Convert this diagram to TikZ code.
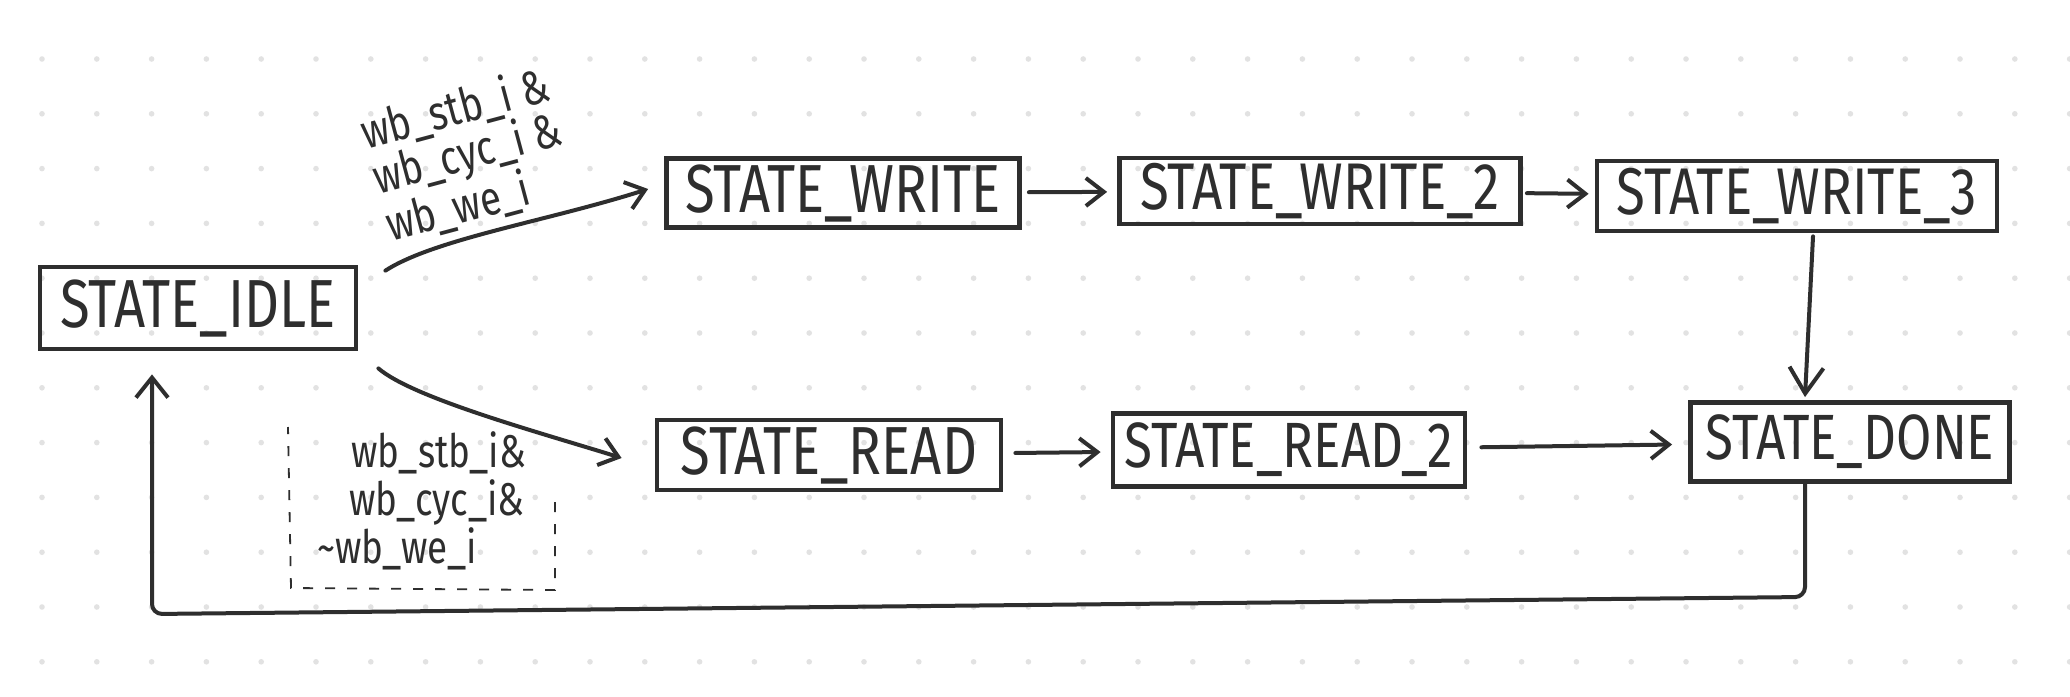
\documentclass[tikz,border=0pt]{standalone}
\usepackage{fontspec}
\newfontfamily\hand[FakeStretch=0.8]{Fira Sans}
\usetikzlibrary{arrows.meta}
\definecolor{ink}{HTML}{2E2E2E}
\definecolor{gridgray}{HTML}{E2E2E2}
\begin{document}
\begin{tikzpicture}[x=0.5pt,y=-0.5pt,
  statebox/.style={draw=ink, line width=2.4pt, inner sep=0pt, text=ink,
    font=\hand\fontsize{34}{40}\selectfont},
  arr/.style={draw=ink, line width=2pt, line cap=round, line join=round,
    -{Straight Barb[length=9pt,width=14pt,line width=2pt]}},
  cond/.style={text=ink, inner sep=0pt},
]
\useasboundingbox (0,0) rectangle (2070,696);
\fill[white] (0,0) rectangle (2070,696);
\foreach \i in {0,...,37}{
  \foreach \j in {0,...,11}{
    \fill[gridgray] (42+54.8*\i, 59+54.8*\j) circle (1.4pt);
  }
}
% states
\node[statebox, minimum width=158pt, minimum height=41pt] (idle) at (198,308) {STATE\_IDLE};
\node[statebox, minimum width=176.5pt, minimum height=34.5pt] (write) at (843,193) {STATE\_WRITE};
\node[statebox, minimum width=200.5pt, minimum height=33pt, font=\hand\fontsize{33}{40}\selectfont] (write2) at (1320,191) {STATE\_WRITE\_2};
\node[statebox, minimum width=200pt, minimum height=35pt, font=\hand\fontsize{33}{40}\selectfont] (write3) at (1797,196) {STATE\_WRITE\_3};
\node[statebox, minimum width=172pt, minimum height=35pt] (read) at (829,455) {STATE\_READ};
\node[statebox, minimum width=176pt, minimum height=36.5pt, font=\hand\fontsize{32}{40}\selectfont] (read2) at (1289,450) {STATE\_READ\_2};
\node[statebox, minimum width=159.5pt, minimum height=39.5pt, font=\hand\fontsize{32}{40}\selectfont] (done) at (1850,442) {STATE\_DONE};
% conditions
\node[cond, rotate=15, align=left, font=\hand\fontsize{24}{23}\selectfont] (wcond) at (468,156)
  {wb\_stb\_i \&\\wb\_cyc\_i \&\\wb\_we\_i};
\node[cond, align=left, anchor=west, font=\hand\fontsize{23}{24}\selectfont] (rcond) at (317,501)
  {\hspace*{17pt}wb\_stb\_i\&\\\hspace*{16pt}wb\_cyc\_i\&\\\textasciitilde wb\_we\_i};
\draw[ink, line width=0.9pt, dash pattern=on 5pt off 6pt]
  (555,502) -- (555,590) -- (291,588) -- (288,427);
% transitions
\draw[arr] ([xshift=13.5pt,yshift=-3pt]idle.north east)
  .. controls +(50,-32) and +(-100,32) .. ([xshift=-8pt,yshift=2pt]write.west);
\draw[arr] ([xshift=10pt,yshift=-8.5pt]idle.south east)
  .. controls +(35,30) and +(-80,-25) .. ([xshift=-16.5pt,yshift=-1.5pt]read.west);
\draw[arr, shorten <=3.5pt, shorten >=5pt] (write) -- (write2);
\draw[arr, shorten <=2pt, shorten >=3pt] (write2) -- (write3);
\draw[arr, shorten <=6pt, shorten >=5pt] (read) -- (read2);
\draw[arr, shorten <=7pt, shorten >=8pt] (read2) -- (done);
\draw[arr, -{Straight Barb[length=13pt,width=17pt,line width=2pt]}]
  ([xshift=8pt,yshift=-1.5pt]write3.south) -- ([xshift=-22.5pt,yshift=1.5pt]done.north);
\coordinate (loopR) at (1805,597);
\coordinate (loopL) at (152,614);
\draw[arr, rounded corners=5pt, -{Straight Barb[length=10pt,width=16pt,line width=2pt]}]
  ([xshift=-22.5pt]done.south) -- (loopR) -- (loopL)
  -- ([xshift=-23pt,yshift=-11.5pt]idle.south);
\end{tikzpicture}
\end{document}
